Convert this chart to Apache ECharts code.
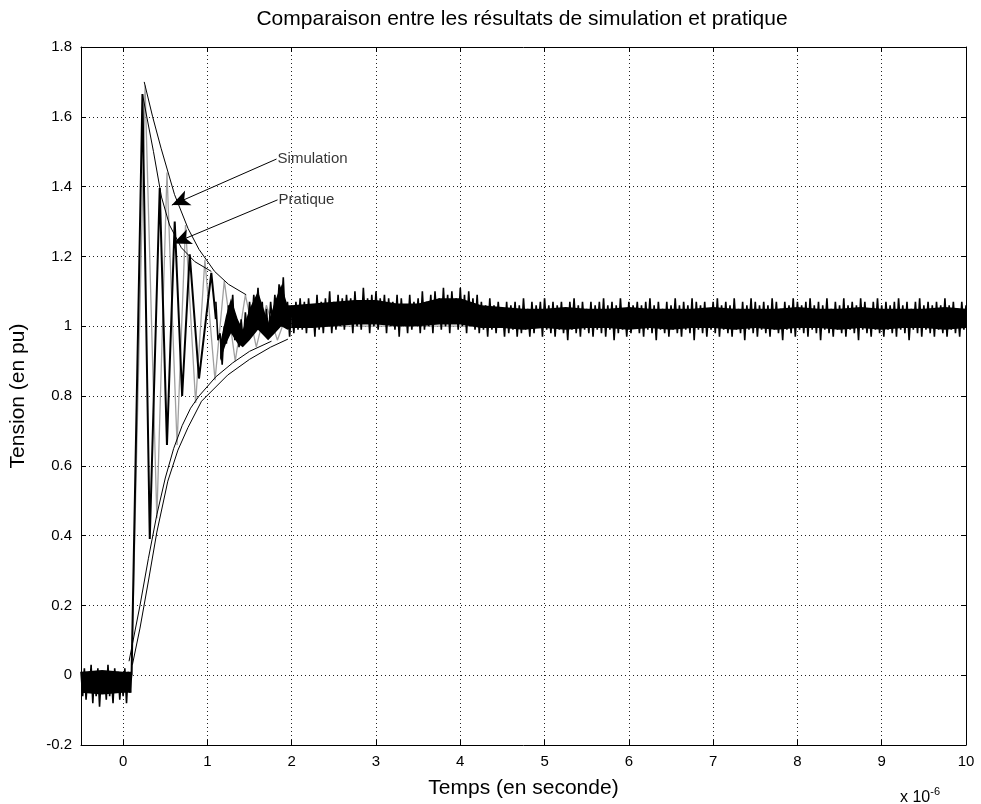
<!DOCTYPE html>
<html>
<head>
<meta charset="utf-8">
<script src="https://cdn.jsdelivr.net/npm/echarts@6/dist/echarts.min.js"></script>
<style>
  html, body { margin: 0; padding: 0; background: #fff; }
  #chart { width: 981px; height: 804px; }
</style>
</head>
<body>
<div id="chart"></div>
<script>
// Tension simulée (pu) aux instants de crête / creux (µs)
const tempsSimulation = [-0.5, 0.10, 0.26, 0.40, 0.52, 0.64, 0.74, 0.86, 0.97, 1.09, 1.20, 1.33, 1.45, 1.58, 1.70, 1.83, 1.95, 2.08, 10];
const tensionSimulation = [0, 0.0, 1.69, 0.45, 1.44, 0.66, 1.29, 0.78, 1.19, 0.845, 1.13, 0.90, 1.09, 0.94, 1.06, 0.96, 1.04, 1.0, 1.0];

// Tension mesurée : partie oscillante
const tempsPratique = [0.10, 0.229, 0.316, 0.434, 0.52, 0.612, 0.70, 0.79, 0.90, 1.046, 1.10];
const tensionPratique = [0.0, 1.665, 0.39, 1.396, 0.66, 1.30, 0.80, 1.206, 0.85, 1.153, 1.02];

// Tension mesurée avant l'impulsion (échantillons, pas de 0.02 µs)
const debutAvant = -0.5;
const pasAvant = 0.02;
const bruitAvant = [0.01,-0.06,0.02,-0.07,0.00,-0.05,0.03,-0.08,0.01,-0.06,0.02,-0.09,0.00,-0.05,0.01,-0.07,0.03,-0.06,0.00,-0.08,0.02,-0.05,0.01,-0.07,0.00,-0.06,0.02,-0.08,0.01,-0.05,0.00];

// Tension mesurée après l'oscillation principale (échantillons, pas de 0.025 µs)
const debutRegime = 1.1;
const pasRegime = 0.025;
const bruitRegime = [
  1.07,0.96,0.98,0.89,1.00,0.95,1.06,1.00,1.09,0.96,1.02,0.94,1.02,0.95,1.04,0.98,1.07,1.00,1.09,1.02,
  1.11,1.01,1.07,0.98,1.05,0.97,1.07,1.00,1.09,1.02,1.12,1.04,1.14,1.00,1.07,0.97,1.06,0.98,1.07,0.99,1.08,
  0.99,1.07,0.98,1.08,1.00,1.06,0.97,1.09,0.99,1.07,0.98,1.08,1.00,1.10,0.98,1.07,0.99,1.09,1.00,1.08,
  0.99,1.09,1.01,1.08,0.98,1.10,1.00,1.07,0.99,1.11,1.01,1.08,0.98,1.09,1.00,1.10,0.99,1.08,1.01,1.09,
  0.98,1.08,1.00,1.07,0.99,1.09,0.97,1.08,1.00,1.06,0.98,1.09,0.99,1.07,1.01,1.08,0.98,1.10,0.99,1.07,
  1.00,1.09,0.98,1.10,1.01,1.08,0.99,1.11,1.00,1.09,0.98,1.10,1.01,1.08,0.99,1.11,1.00,1.09,0.98,1.10,
  1.00,1.08,0.99,1.09,0.98,1.07,0.99,1.06,0.97,1.08,0.99,1.06,0.98,1.07,1.00,1.05,0.97,1.07,0.98,1.06,
  0.99,1.07,0.97,1.06,0.98,1.08,0.99,1.05,0.97,1.07,0.98,1.06,1.00,1.07,0.97,1.08,0.99,1.06,0.98,1.07,
  0.97,1.06,0.99,1.07,0.98,1.05,0.96,1.07,0.99,1.08,0.98,1.06,0.97,1.07,0.99,1.05,0.98,1.07,0.97,1.06,
  0.99,1.07,0.98,1.08,0.97,1.06,0.99,1.07,0.96,1.06,0.98,1.08,0.99,1.05,0.97,1.07,0.98,1.06,1.00,1.07,
  0.98,1.06,0.97,1.07,0.99,1.08,0.98,1.06,0.96,1.07,0.99,1.05,0.98,1.07,0.97,1.06,0.99,1.08,0.98,1.06,
  0.97,1.07,0.99,1.06,0.98,1.08,0.96,1.07,0.99,1.06,0.98,1.07,0.97,1.05,0.99,1.07,0.98,1.08,0.97,1.06,
  0.99,1.07,0.98,1.06,0.97,1.08,0.99,1.05,0.98,1.07,0.96,1.06,0.99,1.08,0.98,1.07,0.97,1.06,0.99,1.07,
  0.98,1.06,0.97,1.08,0.99,1.07,0.98,1.05,0.96,1.07,0.99,1.06,0.98,1.08,0.97,1.07,0.99,1.06,0.98,1.07,
  0.97,1.08,0.99,1.06,0.98,1.07,0.96,1.06,0.99,1.08,0.98,1.05,0.97,1.07,0.99,1.06,0.98,1.08,0.97,1.06,
  0.99,1.07,0.98,1.06,0.96,1.08,0.99,1.07,0.98,1.05,0.97,1.07,0.99,1.08,0.98,1.06,0.97,1.07,0.99,1.06,
  0.98,1.07,0.97,1.08,0.99,1.06,0.98,1.07,0.96,1.05,0.99,1.07,0.98,1.08,0.97,1.06,0.99,1.07,0.98,1.06,
  0.97,1.07,0.99,1.06,0.98,1.08,0.97,1.06,0.99,1.07,0.98,1.05,0.97,1.07,0.99,1.06
];

// Zone dense du bruit mesuré (bornes haute / basse)
const tempsCoeurOsc = [1.15, 1.22, 1.28, 1.36, 1.42, 1.50, 1.60, 1.68, 1.72, 1.80, 1.876, 1.95, 2.0];
const coeurOscHaut = [0.95, 1.03, 1.08, 1.02, 0.99, 1.05, 1.10, 1.04, 1.01, 1.07, 1.12, 1.06, 1.06];
const coeurOscBas = [0.90, 0.95, 0.98, 0.95, 0.94, 0.96, 0.99, 0.97, 0.96, 0.98, 1.0, 0.99, 0.995];
const tempsCoeur = [2.0, 2.25, 2.5, 2.75, 3.0, 3.25, 3.5, 3.75, 4.0, 4.25, 4.5, 4.75, 5.0, 5.25, 5.5, 5.75, 6.0, 6.25, 6.5, 6.75, 7.0, 7.25, 7.5, 7.75, 8.0, 8.25, 8.5, 8.75, 9.0, 9.25, 9.5, 9.75, 10.0];
const coeurHaut = [1.06, 1.065, 1.07, 1.075, 1.075, 1.065, 1.065, 1.08, 1.08, 1.06, 1.055, 1.05, 1.05, 1.055, 1.05, 1.05, 1.055, 1.05, 1.05, 1.05, 1.055, 1.05, 1.05, 1.05, 1.055, 1.05, 1.05, 1.055, 1.05, 1.05, 1.05, 1.055, 1.05];
const coeurBas = [0.995, 0.995, 1.0, 1.005, 1.005, 1.0, 1.0, 1.005, 1.005, 0.995, 0.995, 0.99, 0.995, 0.99, 0.995, 0.995, 0.99, 0.995, 0.99, 0.995, 0.995, 0.99, 0.995, 0.99, 0.995, 0.995, 0.99, 0.995, 0.99, 0.995, 0.995, 0.99, 0.995];
const tempsCoeurAvant = [-0.5, -0.25, 0.0, 0.1];
const coeurAvantHaut = [0.01, 0.015, 0.01, 0.01];
const coeurAvantBas = [-0.05, -0.055, -0.05, -0.05];

// Enveloppes tracées à la main
const enveloppeHautSimT = [0.25, 0.35, 0.45, 0.61, 0.77, 0.90, 1.085, 1.25, 1.46];
const enveloppeHautSimV = [1.70, 1.60, 1.51, 1.377, 1.28, 1.22, 1.157, 1.12, 1.09];
const enveloppeHautPratT = [0.229, 0.36, 0.455, 0.55, 0.69, 0.85, 1.046];
const enveloppeHautPratV = [1.665, 1.50, 1.37, 1.29, 1.225, 1.185, 1.157];
const enveloppeBasSimT = [0.07, 0.2, 0.3, 0.4, 0.5, 0.6, 0.7, 0.8, 0.9, 1.1, 1.3, 1.5, 1.76];
const enveloppeBasSimV = [0.04, 0.2, 0.335, 0.46, 0.565, 0.65, 0.715, 0.765, 0.80, 0.855, 0.895, 0.928, 0.957];
const enveloppeBasPratT = [0.11, 0.2, 0.3, 0.4, 0.53, 0.65, 0.77, 0.93, 1.24, 1.5, 1.75, 1.955];
const enveloppeBasPratV = [0.03, 0.135, 0.27, 0.41, 0.556, 0.645, 0.71, 0.785, 0.86, 0.905, 0.94, 0.963];

// Annotations : [x départ flèche, y départ, x pointe, y pointe, texte]
const annotations = [
  [1.82, 1.479, 0.578, 1.347, 'Simulation'],
  [1.832, 1.362, 0.595, 1.237, 'Pratique']
];

const titre = 'Comparaison entre les résultats de simulation et pratique';
const nomAxeX = 'Temps (en seconde)';
const nomAxeY = 'Tension (en pu)';

const police = '"Liberation Sans", Arial, sans-serif';

function paires(xs, ys) { return xs.map((x, i) => [x, ys[i]]); }
function echantillons(debut, pas, valeurs) {
  return valeurs.map((v, i) => [+(debut + i * pas).toFixed(4), v]);
}

const styleGrille = { show: true, lineStyle: { color: '#222', width: 1, type: [1, 3] } };
const styleAxe = { show: true, onZero: false, lineStyle: { color: '#000', width: 1 } };
const styleTick = { show: true, inside: true, length: 5, lineStyle: { color: '#000' } };

function ligne(data, color, width, z) {
  return {
    type: 'line', data, symbol: 'none', showSymbol: false, animation: false,
    lineStyle: { color, width, join: 'bevel' }, z, silent: true
  };
}

// Bande pleine entre deux bornes, placée avec les échelles des axes
function bande(temps, haut, bas, z) {
  return {
    type: 'custom', coordinateSystem: 'cartesian2d', z, silent: true, animation: false, clip: true,
    data: [[temps[0], haut[0]]],
    renderItem: (params, api) => {
      const dessus = temps.map((t, i) => api.coord([t, haut[i]]));
      const dessous = temps.map((t, i) => api.coord([t, bas[i]])).reverse();
      return { type: 'polygon', shape: { points: dessus.concat(dessous) }, style: { fill: '#000' } };
    }
  };
}

const chart = echarts.init(document.getElementById('chart'), null, { renderer: 'canvas' });

chart.setOption({
  backgroundColor: '#fff',
  animation: false,
  grid: { left: 79, right: 15, top: 47, bottom: 59, containLabel: false },
  xAxis: [{
    type: 'value', min: -0.5, max: 10, splitNumber: 10, minInterval: 1, maxInterval: 1,
    axisLine: styleAxe, axisTick: styleTick, splitLine: styleGrille,
    axisLabel: {
      color: '#000', fontFamily: police, fontSize: 15, margin: 9,
      formatter: v => Math.abs(v - Math.round(v)) < 1e-9 ? String(Math.round(v)) : ''
    },
    name: nomAxeX, nameLocation: 'middle', nameGap: 33,
    nameTextStyle: { color: '#000', fontFamily: police, fontSize: 21 }
  }, {
    type: 'value', position: 'top', min: -0.5, max: 10, splitNumber: 10, minInterval: 1, maxInterval: 1,
    axisLine: styleAxe, axisTick: styleTick, splitLine: { show: false }, axisLabel: { show: false }
  }],
  yAxis: [{
    type: 'value', min: -0.2, max: 1.8, interval: 0.2,
    axisLine: styleAxe, axisTick: styleTick, splitLine: styleGrille,
    axisLabel: { color: '#000', fontFamily: police, fontSize: 15, margin: 9 },
    name: nomAxeY, nameLocation: 'middle', nameGap: 52,
    nameTextStyle: { color: '#000', fontFamily: police, fontSize: 21 }
  }, {
    type: 'value', position: 'right', min: -0.2, max: 1.8, interval: 0.2,
    axisLine: styleAxe, axisTick: styleTick, splitLine: { show: false }, axisLabel: { show: false }
  }],
  graphic: [{
    type: 'text', x: 522, y: 19,
    style: { text: titre, font: '21px ' + police, fill: '#000', textAlign: 'center', textVerticalAlign: 'middle' }
  }, {
    type: 'text', x: 900, y: 798,
    style: {
      text: '{a|x 10}{b|-6}', fill: '#000', textVerticalAlign: 'middle',
      rich: {
        a: { fontFamily: police, fontSize: 16, fill: '#000' },
        b: { fontFamily: police, fontSize: 11, fill: '#000', padding: [0, 0, 12, 0] }
      }
    }
  }],
  series: [
    ligne(paires(tempsSimulation, tensionSimulation), '#a0a0a0', 1.3, 2),
    bande(tempsCoeurAvant, coeurAvantHaut, coeurAvantBas, 3),
    bande(tempsCoeurOsc, coeurOscHaut, coeurOscBas, 3),
    bande(tempsCoeur, coeurHaut, coeurBas, 3),
    ligne(echantillons(debutAvant, pasAvant, bruitAvant), '#000', 1.6, 3),
    ligne(paires(tempsPratique, tensionPratique), '#000', 2, 3),
    ligne(echantillons(debutRegime, pasRegime, bruitRegime), '#000', 1.6, 3),
    ligne(paires(enveloppeHautSimT, enveloppeHautSimV), '#000', 1, 4),
    ligne(paires(enveloppeHautPratT, enveloppeHautPratV), '#000', 1, 4),
    ligne(paires(enveloppeBasSimT, enveloppeBasSimV), '#000', 1, 4),
    ligne(paires(enveloppeBasPratT, enveloppeBasPratV), '#000', 1, 4),
    {
      type: 'scatter', z: 5, silent: true, animation: false,
      symbolSize: 0,
      data: annotations.map(a => ({ value: [a[0], a[1]], name: a[4] })),
      label: {
        show: true, position: 'right', distance: 1, formatter: p => p.name,
        color: '#000', fontFamily: police, fontSize: 15
      },
      markLine: {
        silent: true, animation: false,
        symbol: ['none', 'arrow'], symbolSize: [12, 18],
        label: { show: false },
        lineStyle: { color: '#000', width: 1, type: 'solid' },
        data: annotations.map(a => [
          { coord: [a[0], a[1]] },
          { coord: [a[2], a[3]] }
        ])
      }
    }
  ]
});
</script>
</body>
</html>
